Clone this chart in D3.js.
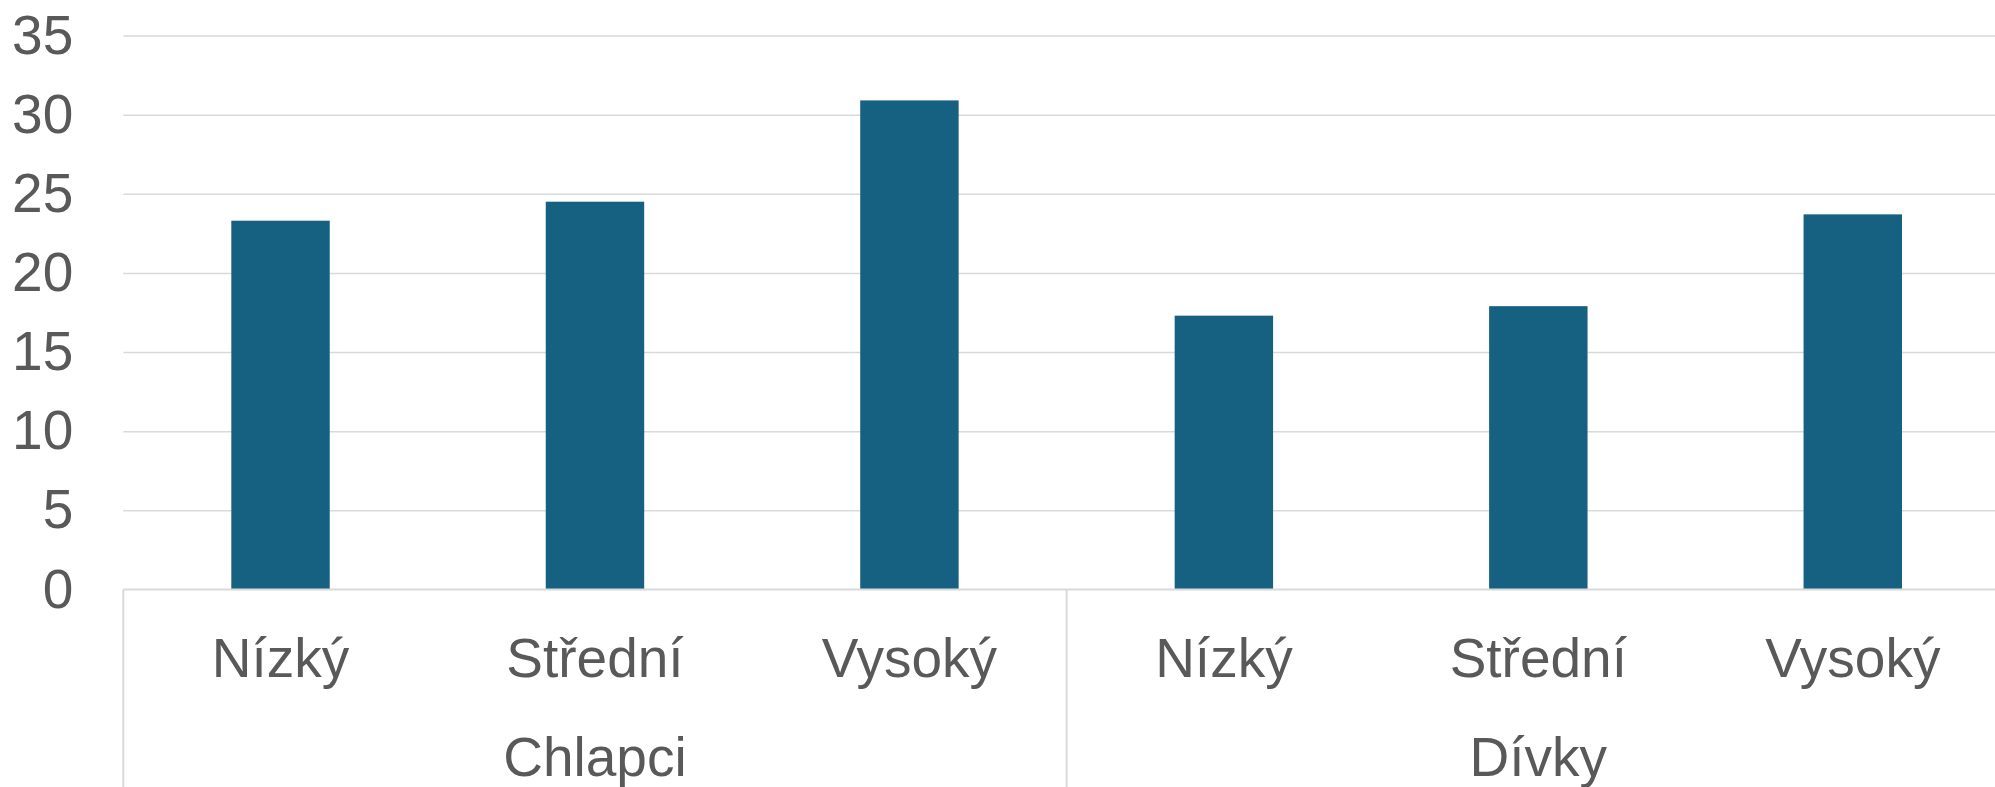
<!DOCTYPE html>
<html>
<head>
<meta charset="utf-8">
<script src="https://cdn.jsdelivr.net/npm/d3@7"></script>
<style>
  html, body { margin: 0; padding: 0; background: #ffffff; }
  svg { display: block; }
  text { font-family: "Liberation Sans", Arial, sans-serif; fill: #595959; }
</style>
</head>
<body>
<svg id="chart" width="1995" height="787"></svg>
<script>
const groups = ["Chlapci", "Dívky"];
const levels = ["Nízký", "Střední", "Vysoký"];
const chlapciValues = [23.3, 24.5, 30.9];
const divkyValues = [17.3, 17.9, 23.7];
const yTickValues = [0, 5, 10, 15, 20, 25, 30, 35];

(function () {
const seriesByGroup = { "Chlapci": chlapciValues, "Dívky": divkyValues };
const data = [];
groups.forEach(g => levels.forEach((l, i) => data.push({ key: g + "|" + l, group: g, level: l, value: seriesByGroup[g][i] })));

const W = 1995, H = 787;
const plotLeft = 123.3, plotRight = 2010, plotTop = 35.5, plotBottom = 589.5;
const fontSize = 55;
const gridColor = "#d9d9d9";
const barColor = "#166082";

const svg = d3.select("#chart");

const x = d3.scaleBand().domain(data.map(d => d.key)).range([plotLeft, plotRight])
  .paddingInner(0.687).paddingOuter(0.3435);
const xGroup = d3.scaleBand().domain(groups).range([plotLeft, plotRight]).padding(0);
const y = d3.scaleLinear().domain([0, 35]).range([plotBottom, plotTop]);

// gridlines
const grid = svg.append("g").attr("transform", `translate(${plotLeft},0)`)
  .call(d3.axisLeft(y).tickValues(yTickValues.filter(v => v > 0)).tickSize(-(plotRight - plotLeft)).tickFormat(""));
grid.select(".domain").remove();
grid.selectAll("line").attr("stroke", gridColor).attr("stroke-width", 1.5);

// y tick labels
const yAxis = svg.append("g").attr("transform", `translate(${plotLeft},0)`)
  .call(d3.axisLeft(y).tickValues(yTickValues).tickSize(0).tickPadding(50).tickFormat(d3.format("d")));
yAxis.select(".domain").remove();
yAxis.selectAll("text").style("font-size", fontSize + "px").attr("fill", "#595959")
  .style("font-family", "'Liberation Sans', Arial, sans-serif");

// bars
svg.append("g").selectAll("rect").data(data).join("rect")
  .attr("x", d => x(d.key))
  .attr("y", d => y(d.value))
  .attr("width", x.bandwidth())
  .attr("height", d => y(0) - y(d.value))
  .attr("fill", barColor);

// baseline
svg.append("line").attr("x1", plotLeft).attr("x2", plotRight).attr("y1", y(0)).attr("y2", y(0))
  .attr("stroke", gridColor).attr("stroke-width", 2);

// group separators
const seps = groups.map(g => xGroup(g));
svg.append("g").selectAll("line").data(seps).join("line")
  .attr("x1", d => d).attr("x2", d => d).attr("y1", y(0)).attr("y2", H)
  .attr("stroke", gridColor).attr("stroke-width", 2);

// level labels
svg.append("g").selectAll("text").data(data).join("text")
  .attr("x", d => x(d.key) + x.bandwidth() / 2)
  .attr("y", 676.5)
  .attr("text-anchor", "middle")
  .style("font-size", fontSize + "px")
  .text(d => d.level);

// group labels
svg.append("g").selectAll("text").data(groups).join("text")
  .attr("x", g => xGroup(g) + xGroup.bandwidth() / 2)
  .attr("y", 775.5)
  .attr("text-anchor", "middle")
  .style("font-size", fontSize + "px")
  .text(g => g);
})();
</script>
</body>
</html>
